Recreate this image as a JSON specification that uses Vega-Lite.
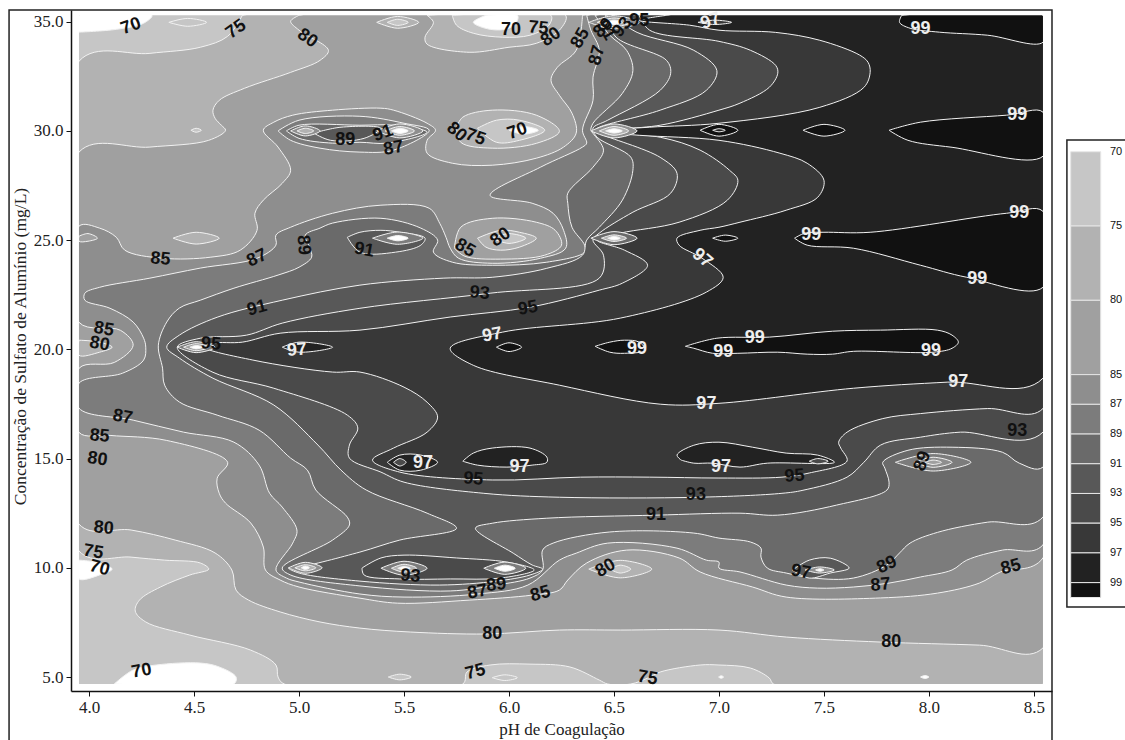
{"$schema":"https://vega.github.io/schema/vega-lite/v6.json","width":981,"height":681,"autosize":{"type":"none"},"padding":{"left":71,"top":10,"right":73,"bottom":49},"background":"white","config":{"view":{"stroke":null}},
"datasets":{"bands":[
{"p":1,"lv":70,"ph":3.952,"c":35.29},{"p":1,"lv":70,"ph":8.543,"c":35.29},{"p":1,"lv":70,"ph":8.543,"c":4.68},{"p":1,"lv":70,"ph":3.952,"c":4.68},{"p":1,"lv":70,"ph":3.952,"c":35.29},
{"p":2,"lv":0,"ph":3.952,"c":34.52},{"p":2,"lv":0,"ph":4.13,"c":34.65},{"p":2,"lv":0,"ph":4.26,"c":34.93},{"p":2,"lv":0,"ph":4.3,"c":35.29},{"p":2,"lv":0,"ph":3.952,"c":35.29},{"p":2,"lv":0,"ph":3.952,"c":34.52},
{"p":3,"lv":0,"ph":4.12,"c":4.68},{"p":3,"lv":0,"ph":4.21,"c":5.32},{"p":3,"lv":0,"ph":4.32,"c":5.55},{"p":3,"lv":0,"ph":4.53,"c":5.64},{"p":3,"lv":0,"ph":4.62,"c":5.46},{"p":3,"lv":0,"ph":4.7,"c":5.0},{"p":3,"lv":0,"ph":4.69,"c":4.68},{"p":3,"lv":0,"ph":4.12,"c":4.68},
{"p":4,"lv":0,"ph":3.952,"c":10.35},{"p":4,"lv":0,"ph":4.03,"c":10.26},{"p":4,"lv":0,"ph":4.11,"c":9.94},{"p":4,"lv":0,"ph":4.05,"c":9.67},{"p":4,"lv":0,"ph":3.952,"c":9.49},{"p":4,"lv":0,"ph":3.952,"c":10.35},
{"p":5,"lv":75,"ph":4.73,"c":35.29},{"p":5,"lv":75,"ph":8.543,"c":35.29},{"p":5,"lv":75,"ph":8.543,"c":4.68},{"p":5,"lv":75,"ph":7.26,"c":4.68},{"p":5,"lv":75,"ph":7.24,"c":4.95},{"p":5,"lv":75,"ph":7.15,"c":5.41},{"p":5,"lv":75,"ph":7.0,"c":5.55},{"p":5,"lv":75,"ph":6.91,"c":5.55},{"p":5,"lv":75,"ph":6.72,"c":5.23},{"p":5,"lv":75,"ph":6.66,"c":4.95},{"p":5,"lv":75,"ph":6.58,"c":4.68},{"p":5,"lv":75,"ph":6.47,"c":4.68},{"p":5,"lv":75,"ph":6.43,"c":4.86},{"p":5,"lv":75,"ph":6.29,"c":5.46},{"p":5,"lv":75,"ph":6.1,"c":5.59},{"p":5,"lv":75,"ph":5.91,"c":5.55},{"p":5,"lv":75,"ph":5.8,"c":5.23},{"p":5,"lv":75,"ph":5.78,"c":4.68},{"p":5,"lv":75,"ph":4.93,"c":4.68},{"p":5,"lv":75,"ph":4.9,"c":5.0},{"p":5,"lv":75,"ph":4.89,"c":5.55},{"p":5,"lv":75,"ph":4.77,"c":6.23},{"p":5,"lv":75,"ph":4.48,"c":6.92},{"p":5,"lv":75,"ph":4.27,"c":7.52},{"p":5,"lv":75,"ph":4.22,"c":8.02},{"p":5,"lv":75,"ph":4.24,"c":8.52},{"p":5,"lv":75,"ph":4.34,"c":9.12},{"p":5,"lv":75,"ph":4.48,"c":9.67},{"p":5,"lv":75,"ph":4.57,"c":9.94},{"p":5,"lv":75,"ph":4.53,"c":10.22},{"p":5,"lv":75,"ph":4.36,"c":10.35},{"p":5,"lv":75,"ph":4.2,"c":10.49},{"p":5,"lv":75,"ph":3.952,"c":10.77},{"p":5,"lv":75,"ph":3.952,"c":33.19},{"p":5,"lv":75,"ph":4.29,"c":33.55},{"p":5,"lv":75,"ph":4.53,"c":33.83},{"p":5,"lv":75,"ph":4.66,"c":34.33},{"p":5,"lv":75,"ph":4.73,"c":35.29},
{"p":6,"lv":80,"ph":5.0,"c":35.29},{"p":6,"lv":80,"ph":8.543,"c":35.29},{"p":6,"lv":80,"ph":8.543,"c":6.33},{"p":6,"lv":80,"ph":8.24,"c":6.46},{"p":6,"lv":80,"ph":7.77,"c":6.6},{"p":6,"lv":80,"ph":7.32,"c":6.83},{"p":6,"lv":80,"ph":7.0,"c":7.15},{"p":6,"lv":80,"ph":6.53,"c":7.15},{"p":6,"lv":80,"ph":6.24,"c":7.15},{"p":6,"lv":80,"ph":5.89,"c":6.97},{"p":6,"lv":80,"ph":5.53,"c":7.06},{"p":6,"lv":80,"ph":5.29,"c":7.24},{"p":6,"lv":80,"ph":5.1,"c":7.52},{"p":6,"lv":80,"ph":4.91,"c":7.98},{"p":6,"lv":80,"ph":4.76,"c":8.52},{"p":6,"lv":80,"ph":4.7,"c":8.98},{"p":6,"lv":80,"ph":4.68,"c":9.9},{"p":6,"lv":80,"ph":4.6,"c":10.68},{"p":6,"lv":80,"ph":4.41,"c":11.27},{"p":6,"lv":80,"ph":4.2,"c":11.73},{"p":6,"lv":80,"ph":3.952,"c":12.0},{"p":6,"lv":80,"ph":3.952,"c":29.03},{"p":6,"lv":80,"ph":4.29,"c":29.26},{"p":6,"lv":80,"ph":4.57,"c":29.57},{"p":6,"lv":80,"ph":4.65,"c":30.03},{"p":6,"lv":80,"ph":4.63,"c":30.26},{"p":6,"lv":80,"ph":4.6,"c":30.58},{"p":6,"lv":80,"ph":4.59,"c":30.95},{"p":6,"lv":80,"ph":4.62,"c":31.4},{"p":6,"lv":80,"ph":4.74,"c":31.95},{"p":6,"lv":80,"ph":4.96,"c":32.68},{"p":6,"lv":80,"ph":5.1,"c":33.23},{"p":6,"lv":80,"ph":5.14,"c":33.69},{"p":6,"lv":80,"ph":5.0,"c":34.61},{"p":6,"lv":80,"ph":4.96,"c":35.02},{"p":6,"lv":80,"ph":5.0,"c":35.29},
{"p":7,"lv":85,"ph":6.35,"c":35.29},{"p":7,"lv":85,"ph":8.543,"c":35.29},{"p":7,"lv":85,"ph":8.543,"c":10.45},{"p":7,"lv":85,"ph":8.34,"c":9.81},{"p":7,"lv":85,"ph":8.24,"c":9.3},{"p":7,"lv":85,"ph":8.04,"c":8.84},{"p":7,"lv":85,"ph":7.77,"c":8.62},{"p":7,"lv":85,"ph":7.32,"c":8.66},{"p":7,"lv":85,"ph":7.16,"c":9.12},{"p":7,"lv":85,"ph":6.91,"c":9.81},{"p":7,"lv":85,"ph":6.81,"c":10.45},{"p":7,"lv":85,"ph":6.56,"c":10.81},{"p":7,"lv":85,"ph":6.37,"c":10.22},{"p":7,"lv":85,"ph":6.28,"c":9.44},{"p":7,"lv":85,"ph":6.24,"c":8.98},{"p":7,"lv":85,"ph":6.11,"c":8.75},{"p":7,"lv":85,"ph":5.81,"c":8.52},{"p":7,"lv":85,"ph":5.47,"c":8.38},{"p":7,"lv":85,"ph":5.29,"c":8.61},{"p":7,"lv":85,"ph":5.0,"c":9.12},{"p":7,"lv":85,"ph":4.91,"c":9.44},{"p":7,"lv":85,"ph":4.84,"c":9.9},{"p":7,"lv":85,"ph":4.83,"c":10.95},{"p":7,"lv":85,"ph":4.77,"c":12.05},{"p":7,"lv":85,"ph":4.65,"c":12.96},{"p":7,"lv":85,"ph":4.62,"c":13.41},{"p":7,"lv":85,"ph":4.61,"c":14.1},{"p":7,"lv":85,"ph":4.66,"c":14.83},{"p":7,"lv":85,"ph":4.37,"c":15.83},{"p":7,"lv":85,"ph":4.1,"c":16.06},{"p":7,"lv":85,"ph":3.952,"c":16.2},{"p":7,"lv":85,"ph":3.952,"c":19.13},{"p":7,"lv":85,"ph":4.12,"c":19.4},{"p":7,"lv":85,"ph":4.21,"c":20.19},{"p":7,"lv":85,"ph":4.15,"c":20.87},{"p":7,"lv":85,"ph":3.952,"c":21.24},{"p":7,"lv":85,"ph":3.952,"c":25.64},{"p":7,"lv":85,"ph":4.05,"c":25.55},{"p":7,"lv":85,"ph":4.13,"c":25.13},{"p":7,"lv":85,"ph":4.17,"c":24.54},{"p":7,"lv":85,"ph":4.35,"c":24.17},{"p":7,"lv":85,"ph":4.58,"c":24.22},{"p":7,"lv":85,"ph":4.72,"c":24.54},{"p":7,"lv":85,"ph":4.8,"c":25.45},{"p":7,"lv":85,"ph":4.79,"c":26.23},{"p":7,"lv":85,"ph":4.83,"c":26.83},{"p":7,"lv":85,"ph":4.92,"c":27.6},{"p":7,"lv":85,"ph":4.96,"c":28.2},{"p":7,"lv":85,"ph":4.9,"c":29.26},{"p":7,"lv":85,"ph":4.83,"c":30.03},{"p":7,"lv":85,"ph":4.88,"c":30.4},{"p":7,"lv":85,"ph":4.97,"c":30.72},{"p":7,"lv":85,"ph":5.16,"c":30.95},{"p":7,"lv":85,"ph":5.39,"c":31.04},{"p":7,"lv":85,"ph":5.45,"c":30.95},{"p":7,"lv":85,"ph":5.61,"c":30.35},{"p":7,"lv":85,"ph":5.65,"c":30.03},{"p":7,"lv":85,"ph":5.61,"c":29.57},{"p":7,"lv":85,"ph":5.61,"c":28.98},{"p":7,"lv":85,"ph":5.73,"c":28.52},{"p":7,"lv":85,"ph":5.92,"c":28.43},{"p":7,"lv":85,"ph":6.13,"c":28.75},{"p":7,"lv":85,"ph":6.26,"c":29.26},{"p":7,"lv":85,"ph":6.32,"c":29.9},{"p":7,"lv":85,"ph":6.3,"c":30.81},{"p":7,"lv":85,"ph":6.24,"c":31.63},{"p":7,"lv":85,"ph":6.2,"c":32.32},{"p":7,"lv":85,"ph":6.23,"c":32.91},{"p":7,"lv":85,"ph":6.32,"c":33.69},{"p":7,"lv":85,"ph":6.35,"c":35.29},
{"p":8,"lv":87,"ph":6.37,"c":35.29},{"p":8,"lv":87,"ph":8.543,"c":35.29},{"p":8,"lv":87,"ph":8.543,"c":11.05},{"p":8,"lv":87,"ph":8.35,"c":10.81},{"p":8,"lv":87,"ph":8.18,"c":10.35},{"p":8,"lv":87,"ph":8.11,"c":9.9},{"p":8,"lv":87,"ph":7.96,"c":9.58},{"p":8,"lv":87,"ph":7.81,"c":9.3},{"p":8,"lv":87,"ph":7.64,"c":9.12},{"p":8,"lv":87,"ph":7.47,"c":9.07},{"p":8,"lv":87,"ph":7.32,"c":9.21},{"p":8,"lv":87,"ph":7.1,"c":9.81},{"p":8,"lv":87,"ph":7.0,"c":9.99},{"p":8,"lv":87,"ph":7.0,"c":10.26},{"p":8,"lv":87,"ph":6.94,"c":10.35},{"p":8,"lv":87,"ph":6.8,"c":10.9},{"p":8,"lv":87,"ph":6.47,"c":11.13},{"p":8,"lv":87,"ph":6.32,"c":10.67},{"p":8,"lv":87,"ph":6.24,"c":10.35},{"p":8,"lv":87,"ph":6.09,"c":9.21},{"p":8,"lv":87,"ph":5.85,"c":8.8},{"p":8,"lv":87,"ph":5.5,"c":8.66},{"p":8,"lv":87,"ph":5.29,"c":8.8},{"p":8,"lv":87,"ph":5.0,"c":9.35},{"p":8,"lv":87,"ph":4.94,"c":9.53},{"p":8,"lv":87,"ph":4.89,"c":9.9},{"p":8,"lv":87,"ph":4.97,"c":11.13},{"p":8,"lv":87,"ph":4.99,"c":11.73},{"p":8,"lv":87,"ph":4.92,"c":12.78},{"p":8,"lv":87,"ph":4.86,"c":13.41},{"p":8,"lv":87,"ph":4.81,"c":14.7},{"p":8,"lv":87,"ph":4.69,"c":15.75},{"p":8,"lv":87,"ph":4.45,"c":16.21},{"p":8,"lv":87,"ph":4.21,"c":16.76},{"p":8,"lv":87,"ph":3.952,"c":17.31},{"p":8,"lv":87,"ph":3.952,"c":18.45},{"p":8,"lv":87,"ph":4.16,"c":18.91},{"p":8,"lv":87,"ph":4.26,"c":19.51},{"p":8,"lv":87,"ph":4.27,"c":20.1},{"p":8,"lv":87,"ph":4.26,"c":20.51},{"p":8,"lv":87,"ph":4.21,"c":21.25},{"p":8,"lv":87,"ph":4.1,"c":21.88},{"p":8,"lv":87,"ph":3.98,"c":22.25},{"p":8,"lv":87,"ph":3.98,"c":22.57},{"p":8,"lv":87,"ph":4.05,"c":22.84},{"p":8,"lv":87,"ph":4.29,"c":23.26},{"p":8,"lv":87,"ph":4.53,"c":23.72},{"p":8,"lv":87,"ph":4.8,"c":24.17},{"p":8,"lv":87,"ph":4.89,"c":24.77},{"p":8,"lv":87,"ph":4.89,"c":25.23},{"p":8,"lv":87,"ph":4.96,"c":25.59},{"p":8,"lv":87,"ph":5.16,"c":26.23},{"p":8,"lv":87,"ph":5.39,"c":26.6},{"p":8,"lv":87,"ph":5.62,"c":26.46},{"p":8,"lv":87,"ph":5.67,"c":25.77},{"p":8,"lv":87,"ph":5.7,"c":25.13},{"p":8,"lv":87,"ph":5.72,"c":24.63},{"p":8,"lv":87,"ph":5.76,"c":24.17},{"p":8,"lv":87,"ph":5.92,"c":23.94},{"p":8,"lv":87,"ph":6.15,"c":24.17},{"p":8,"lv":87,"ph":6.27,"c":24.63},{"p":8,"lv":87,"ph":6.26,"c":25.45},{"p":8,"lv":87,"ph":6.21,"c":26.23},{"p":8,"lv":87,"ph":6.11,"c":26.69},{"p":8,"lv":87,"ph":5.91,"c":27.05},{"p":8,"lv":87,"ph":6.15,"c":28.34},{"p":8,"lv":87,"ph":6.35,"c":29.26},{"p":8,"lv":87,"ph":6.37,"c":29.44},{"p":8,"lv":87,"ph":6.35,"c":30.03},{"p":8,"lv":87,"ph":6.4,"c":31.4},{"p":8,"lv":87,"ph":6.4,"c":32.46},{"p":8,"lv":87,"ph":6.43,"c":33.69},{"p":8,"lv":87,"ph":6.39,"c":34.61},{"p":8,"lv":87,"ph":6.37,"c":35.29},
{"p":9,"lv":89,"ph":6.41,"c":35.29},{"p":9,"lv":89,"ph":8.543,"c":35.29},{"p":9,"lv":89,"ph":8.543,"c":12.32},{"p":9,"lv":89,"ph":8.28,"c":12.09},{"p":9,"lv":89,"ph":8.04,"c":11.62},{"p":9,"lv":89,"ph":7.91,"c":11.13},{"p":9,"lv":89,"ph":7.86,"c":10.68},{"p":9,"lv":89,"ph":7.8,"c":10.13},{"p":9,"lv":89,"ph":7.64,"c":9.53},{"p":9,"lv":89,"ph":7.45,"c":9.53},{"p":9,"lv":89,"ph":7.32,"c":9.76},{"p":9,"lv":89,"ph":7.23,"c":9.99},{"p":9,"lv":89,"ph":7.2,"c":10.49},{"p":9,"lv":89,"ph":7.2,"c":10.9},{"p":9,"lv":89,"ph":7.15,"c":11.18},{"p":9,"lv":89,"ph":7.0,"c":11.36},{"p":9,"lv":89,"ph":6.88,"c":11.59},{"p":9,"lv":89,"ph":6.48,"c":11.64},{"p":9,"lv":89,"ph":6.21,"c":11.13},{"p":9,"lv":89,"ph":6.16,"c":10.81},{"p":9,"lv":89,"ph":6.16,"c":9.9},{"p":9,"lv":89,"ph":6.1,"c":9.53},{"p":9,"lv":89,"ph":5.94,"c":9.21},{"p":9,"lv":89,"ph":5.72,"c":8.94},{"p":9,"lv":89,"ph":5.29,"c":9.17},{"p":9,"lv":89,"ph":4.96,"c":9.67},{"p":9,"lv":89,"ph":4.92,"c":9.99},{"p":9,"lv":89,"ph":5.16,"c":11.27},{"p":9,"lv":89,"ph":5.24,"c":11.96},{"p":9,"lv":89,"ph":5.23,"c":12.32},{"p":9,"lv":89,"ph":5.08,"c":13.56},{"p":9,"lv":89,"ph":5.04,"c":14.47},{"p":9,"lv":89,"ph":4.96,"c":15.02},{"p":9,"lv":89,"ph":4.81,"c":16.3},{"p":9,"lv":89,"ph":4.61,"c":16.99},{"p":9,"lv":89,"ph":4.43,"c":17.59},{"p":9,"lv":89,"ph":4.36,"c":18.36},{"p":9,"lv":89,"ph":4.35,"c":19.14},{"p":9,"lv":89,"ph":4.33,"c":20.19},{"p":9,"lv":89,"ph":4.37,"c":21.25},{"p":9,"lv":89,"ph":4.43,"c":21.89},{"p":9,"lv":89,"ph":4.53,"c":22.25},{"p":9,"lv":89,"ph":4.69,"c":22.8},{"p":9,"lv":89,"ph":4.9,"c":23.4},{"p":9,"lv":89,"ph":5.0,"c":23.76},{"p":9,"lv":89,"ph":5.06,"c":24.22},{"p":9,"lv":89,"ph":5.05,"c":24.68},{"p":9,"lv":89,"ph":5.03,"c":25.23},{"p":9,"lv":89,"ph":5.1,"c":25.55},{"p":9,"lv":89,"ph":5.16,"c":25.78},{"p":9,"lv":89,"ph":5.39,"c":26.0},{"p":9,"lv":89,"ph":5.58,"c":25.55},{"p":9,"lv":89,"ph":5.66,"c":25.0},{"p":9,"lv":89,"ph":5.64,"c":24.45},{"p":9,"lv":89,"ph":5.73,"c":23.99},{"p":9,"lv":89,"ph":5.92,"c":23.85},{"p":9,"lv":89,"ph":6.18,"c":23.99},{"p":9,"lv":89,"ph":6.36,"c":24.45},{"p":9,"lv":89,"ph":6.36,"c":24.77},{"p":9,"lv":89,"ph":6.3,"c":25.59},{"p":9,"lv":89,"ph":6.28,"c":26.69},{"p":9,"lv":89,"ph":6.28,"c":27.15},{"p":9,"lv":89,"ph":6.4,"c":28.34},{"p":9,"lv":89,"ph":6.45,"c":29.12},{"p":9,"lv":89,"ph":6.4,"c":29.89},{"p":9,"lv":89,"ph":6.39,"c":30.03},{"p":9,"lv":89,"ph":6.4,"c":30.35},{"p":9,"lv":89,"ph":6.54,"c":31.72},{"p":9,"lv":89,"ph":6.59,"c":32.76},{"p":9,"lv":89,"ph":6.56,"c":33.69},{"p":9,"lv":89,"ph":6.48,"c":34.38},{"p":9,"lv":89,"ph":6.41,"c":35.29},
{"p":10,"lv":91,"ph":6.46,"c":35.29},{"p":10,"lv":91,"ph":8.543,"c":35.29},{"p":10,"lv":91,"ph":8.543,"c":14.61},{"p":10,"lv":91,"ph":8.43,"c":14.79},{"p":10,"lv":91,"ph":8.35,"c":15.29},{"p":10,"lv":91,"ph":8.11,"c":15.52},{"p":10,"lv":91,"ph":7.9,"c":15.38},{"p":10,"lv":91,"ph":7.78,"c":14.83},{"p":10,"lv":91,"ph":7.79,"c":14.56},{"p":10,"lv":91,"ph":7.81,"c":13.92},{"p":10,"lv":91,"ph":7.8,"c":13.56},{"p":10,"lv":91,"ph":7.56,"c":12.87},{"p":10,"lv":91,"ph":7.28,"c":12.41},{"p":10,"lv":91,"ph":7.1,"c":12.5},{"p":10,"lv":91,"ph":6.7,"c":12.41},{"p":10,"lv":91,"ph":6.18,"c":12.27},{"p":10,"lv":91,"ph":5.92,"c":12.04},{"p":10,"lv":91,"ph":5.84,"c":11.81},{"p":10,"lv":91,"ph":6.02,"c":10.67},{"p":10,"lv":91,"ph":6.11,"c":10.13},{"p":10,"lv":91,"ph":6.16,"c":9.94},{"p":10,"lv":91,"ph":6.1,"c":9.67},{"p":10,"lv":91,"ph":5.94,"c":9.39},{"p":10,"lv":91,"ph":5.67,"c":9.21},{"p":10,"lv":91,"ph":5.29,"c":9.39},{"p":10,"lv":91,"ph":5.0,"c":9.76},{"p":10,"lv":91,"ph":4.95,"c":9.99},{"p":10,"lv":91,"ph":5.0,"c":10.03},{"p":10,"lv":91,"ph":5.29,"c":10.72},{"p":10,"lv":91,"ph":5.48,"c":11.27},{"p":10,"lv":91,"ph":5.75,"c":11.81},{"p":10,"lv":91,"ph":5.61,"c":12.5},{"p":10,"lv":91,"ph":5.32,"c":13.56},{"p":10,"lv":91,"ph":5.2,"c":14.47},{"p":10,"lv":91,"ph":5.09,"c":15.62},{"p":10,"lv":91,"ph":4.88,"c":17.45},{"p":10,"lv":91,"ph":4.59,"c":18.68},{"p":10,"lv":91,"ph":4.43,"c":19.6},{"p":10,"lv":91,"ph":4.37,"c":20.1},{"p":10,"lv":91,"ph":4.43,"c":20.65},{"p":10,"lv":91,"ph":4.61,"c":21.47},{"p":10,"lv":91,"ph":4.92,"c":22.25},{"p":10,"lv":91,"ph":5.29,"c":22.94},{"p":10,"lv":91,"ph":5.69,"c":23.26},{"p":10,"lv":91,"ph":5.92,"c":23.3},{"p":10,"lv":91,"ph":6.18,"c":23.71},{"p":10,"lv":91,"ph":6.35,"c":24.31},{"p":10,"lv":91,"ph":6.37,"c":25.0},{"p":10,"lv":91,"ph":6.43,"c":25.59},{"p":10,"lv":91,"ph":6.54,"c":26.83},{"p":10,"lv":91,"ph":6.59,"c":28.2},{"p":10,"lv":91,"ph":6.58,"c":28.8},{"p":10,"lv":91,"ph":6.42,"c":29.71},{"p":10,"lv":91,"ph":6.4,"c":30.12},{"p":10,"lv":91,"ph":6.47,"c":30.49},{"p":10,"lv":91,"ph":6.72,"c":31.86},{"p":10,"lv":91,"ph":6.77,"c":32.64},{"p":10,"lv":91,"ph":6.75,"c":33.23},{"p":10,"lv":91,"ph":6.51,"c":34.29},{"p":10,"lv":91,"ph":6.46,"c":35.29},
{"p":11,"lv":93,"ph":6.49,"c":35.29},{"p":11,"lv":93,"ph":8.543,"c":35.29},{"p":11,"lv":93,"ph":8.543,"c":16.21},{"p":11,"lv":93,"ph":8.15,"c":16.21},{"p":11,"lv":93,"ph":7.96,"c":15.98},{"p":11,"lv":93,"ph":7.77,"c":15.62},{"p":11,"lv":93,"ph":7.69,"c":14.83},{"p":11,"lv":93,"ph":7.61,"c":14.15},{"p":11,"lv":93,"ph":7.4,"c":13.55},{"p":11,"lv":93,"ph":7.3,"c":13.41},{"p":11,"lv":93,"ph":6.9,"c":13.23},{"p":11,"lv":93,"ph":6.24,"c":13.23},{"p":11,"lv":93,"ph":5.88,"c":13.41},{"p":11,"lv":93,"ph":5.5,"c":13.92},{"p":11,"lv":93,"ph":5.39,"c":14.38},{"p":11,"lv":93,"ph":5.24,"c":15.02},{"p":11,"lv":93,"ph":5.24,"c":15.62},{"p":11,"lv":93,"ph":5.28,"c":16.4},{"p":11,"lv":93,"ph":5.23,"c":16.99},{"p":11,"lv":93,"ph":4.88,"c":18.22},{"p":11,"lv":93,"ph":4.59,"c":18.95},{"p":11,"lv":93,"ph":4.42,"c":20.1},{"p":11,"lv":93,"ph":4.53,"c":20.51},{"p":11,"lv":93,"ph":4.75,"c":20.65},{"p":11,"lv":93,"ph":4.92,"c":21.2},{"p":11,"lv":93,"ph":5.29,"c":21.88},{"p":11,"lv":93,"ph":5.91,"c":22.57},{"p":11,"lv":93,"ph":6.43,"c":23.26},{"p":11,"lv":93,"ph":6.45,"c":24.31},{"p":11,"lv":93,"ph":6.4,"c":25.0},{"p":11,"lv":93,"ph":6.43,"c":25.32},{"p":11,"lv":93,"ph":6.59,"c":26.28},{"p":11,"lv":93,"ph":6.77,"c":27.15},{"p":11,"lv":93,"ph":6.8,"c":28.06},{"p":11,"lv":93,"ph":6.72,"c":28.79},{"p":11,"lv":93,"ph":6.43,"c":29.89},{"p":11,"lv":93,"ph":6.41,"c":30.03},{"p":11,"lv":93,"ph":6.43,"c":30.17},{"p":11,"lv":93,"ph":6.72,"c":30.95},{"p":11,"lv":93,"ph":6.94,"c":31.86},{"p":11,"lv":93,"ph":6.99,"c":32.76},{"p":11,"lv":93,"ph":6.88,"c":33.69},{"p":11,"lv":93,"ph":6.61,"c":34.51},{"p":11,"lv":93,"ph":6.49,"c":35.29},
{"p":12,"lv":93,"ph":5.3,"c":9.99},{"p":12,"lv":93,"ph":5.39,"c":10.45},{"p":12,"lv":93,"ph":5.5,"c":10.58},{"p":12,"lv":93,"ph":5.75,"c":10.45},{"p":12,"lv":93,"ph":5.99,"c":10.26},{"p":12,"lv":93,"ph":6.12,"c":9.9},{"p":12,"lv":93,"ph":5.96,"c":9.53},{"p":12,"lv":93,"ph":5.72,"c":9.49},{"p":12,"lv":93,"ph":5.48,"c":9.49},{"p":12,"lv":93,"ph":5.31,"c":9.67},{"p":12,"lv":93,"ph":5.3,"c":9.99},
{"p":13,"lv":95,"ph":6.62,"c":35.29},{"p":13,"lv":95,"ph":8.543,"c":35.29},{"p":13,"lv":95,"ph":8.543,"c":17.29},{"p":13,"lv":95,"ph":8.28,"c":17.29},{"p":13,"lv":95,"ph":7.96,"c":17.06},{"p":13,"lv":95,"ph":7.78,"c":16.83},{"p":13,"lv":95,"ph":7.61,"c":16.21},{"p":13,"lv":95,"ph":7.57,"c":15.75},{"p":13,"lv":95,"ph":7.58,"c":15.48},{"p":13,"lv":95,"ph":7.61,"c":14.89},{"p":13,"lv":95,"ph":7.43,"c":14.34},{"p":13,"lv":95,"ph":7.3,"c":14.15},{"p":13,"lv":95,"ph":7.0,"c":14.11},{"p":13,"lv":95,"ph":6.67,"c":14.15},{"p":13,"lv":95,"ph":6.34,"c":14.15},{"p":13,"lv":95,"ph":5.92,"c":14.02},{"p":13,"lv":95,"ph":5.48,"c":14.38},{"p":13,"lv":95,"ph":5.35,"c":14.93},{"p":13,"lv":95,"ph":5.45,"c":15.48},{"p":13,"lv":95,"ph":5.61,"c":16.21},{"p":13,"lv":95,"ph":5.66,"c":16.9},{"p":13,"lv":95,"ph":5.61,"c":17.58},{"p":13,"lv":95,"ph":5.5,"c":18.27},{"p":13,"lv":95,"ph":5.29,"c":18.96},{"p":13,"lv":95,"ph":5.16,"c":18.96},{"p":13,"lv":95,"ph":4.78,"c":19.51},{"p":13,"lv":95,"ph":4.55,"c":20.1},{"p":13,"lv":95,"ph":4.59,"c":20.28},{"p":13,"lv":95,"ph":4.73,"c":20.33},{"p":13,"lv":95,"ph":4.91,"c":20.74},{"p":13,"lv":95,"ph":5.29,"c":20.88},{"p":13,"lv":95,"ph":5.72,"c":21.48},{"p":13,"lv":95,"ph":6.1,"c":21.93},{"p":13,"lv":95,"ph":6.43,"c":22.71},{"p":13,"lv":95,"ph":6.54,"c":23.03},{"p":13,"lv":95,"ph":6.66,"c":23.85},{"p":13,"lv":95,"ph":6.55,"c":24.54},{"p":13,"lv":95,"ph":6.42,"c":25.0},{"p":13,"lv":95,"ph":6.53,"c":25.32},{"p":13,"lv":95,"ph":6.81,"c":25.82},{"p":13,"lv":95,"ph":7.04,"c":26.83},{"p":13,"lv":95,"ph":7.09,"c":27.74},{"p":13,"lv":95,"ph":7.05,"c":28.2},{"p":13,"lv":95,"ph":6.91,"c":29.12},{"p":13,"lv":95,"ph":6.72,"c":29.71},{"p":13,"lv":95,"ph":6.42,"c":29.98},{"p":13,"lv":95,"ph":6.72,"c":30.26},{"p":13,"lv":95,"ph":7.0,"c":30.95},{"p":13,"lv":95,"ph":7.1,"c":31.27},{"p":13,"lv":95,"ph":7.24,"c":32.0},{"p":13,"lv":95,"ph":7.28,"c":32.64},{"p":13,"lv":95,"ph":7.27,"c":33.0},{"p":13,"lv":95,"ph":7.15,"c":33.69},{"p":13,"lv":95,"ph":7.0,"c":34.1},{"p":13,"lv":95,"ph":6.67,"c":34.61},{"p":13,"lv":95,"ph":6.62,"c":35.29},
{"p":14,"lv":97,"ph":6.75,"c":35.29},{"p":14,"lv":97,"ph":8.543,"c":35.29},{"p":14,"lv":97,"ph":8.543,"c":18.68},{"p":14,"lv":97,"ph":8.09,"c":18.5},{"p":14,"lv":97,"ph":7.64,"c":18.22},{"p":14,"lv":97,"ph":7.0,"c":17.53},{"p":14,"lv":97,"ph":6.72,"c":17.49},{"p":14,"lv":97,"ph":6.24,"c":18.36},{"p":14,"lv":97,"ph":5.83,"c":19.27},{"p":14,"lv":97,"ph":5.72,"c":20.05},{"p":14,"lv":97,"ph":5.97,"c":20.79},{"p":14,"lv":97,"ph":6.53,"c":21.43},{"p":14,"lv":97,"ph":6.94,"c":22.62},{"p":14,"lv":97,"ph":7.02,"c":23.3},{"p":14,"lv":97,"ph":6.92,"c":24.17},{"p":14,"lv":97,"ph":6.81,"c":24.77},{"p":14,"lv":97,"ph":6.8,"c":25.09},{"p":14,"lv":97,"ph":6.91,"c":25.45},{"p":14,"lv":97,"ph":7.0,"c":25.59},{"p":14,"lv":97,"ph":7.1,"c":25.82},{"p":14,"lv":97,"ph":7.32,"c":26.37},{"p":14,"lv":97,"ph":7.47,"c":26.96},{"p":14,"lv":97,"ph":7.5,"c":27.74},{"p":14,"lv":97,"ph":7.42,"c":28.52},{"p":14,"lv":97,"ph":7.29,"c":28.98},{"p":14,"lv":97,"ph":7.0,"c":29.57},{"p":14,"lv":97,"ph":6.62,"c":29.8},{"p":14,"lv":97,"ph":6.42,"c":29.98},{"p":14,"lv":97,"ph":6.67,"c":30.17},{"p":14,"lv":97,"ph":7.0,"c":30.35},{"p":14,"lv":97,"ph":7.48,"c":31.08},{"p":14,"lv":97,"ph":7.69,"c":31.99},{"p":14,"lv":97,"ph":7.72,"c":32.68},{"p":14,"lv":97,"ph":7.71,"c":33.14},{"p":14,"lv":97,"ph":7.67,"c":33.47},{"p":14,"lv":97,"ph":7.48,"c":34.15},{"p":14,"lv":97,"ph":7.27,"c":34.51},{"p":14,"lv":97,"ph":7.0,"c":34.61},{"p":14,"lv":97,"ph":6.86,"c":34.84},{"p":14,"lv":97,"ph":6.62,"c":35.06},{"p":14,"lv":97,"ph":6.75,"c":35.29},
{"p":15,"lv":99,"ph":7.87,"c":35.29},{"p":15,"lv":99,"ph":7.86,"c":34.97},{"p":15,"lv":99,"ph":7.91,"c":34.7},{"p":15,"lv":99,"ph":8.05,"c":34.52},{"p":15,"lv":99,"ph":8.28,"c":34.38},{"p":15,"lv":99,"ph":8.543,"c":34.06},{"p":15,"lv":99,"ph":8.543,"c":35.29},{"p":15,"lv":99,"ph":7.87,"c":35.29},
{"p":16,"lv":99,"ph":7.81,"c":30.03},{"p":16,"lv":99,"ph":7.96,"c":30.4},{"p":16,"lv":99,"ph":8.37,"c":30.72},{"p":16,"lv":99,"ph":8.543,"c":30.86},{"p":16,"lv":99,"ph":8.543,"c":28.84},{"p":16,"lv":99,"ph":8.11,"c":29.25},{"p":16,"lv":99,"ph":7.9,"c":29.57},{"p":16,"lv":99,"ph":7.81,"c":30.03},
{"p":17,"lv":99,"ph":7.36,"c":25.09},{"p":17,"lv":99,"ph":7.41,"c":25.32},{"p":17,"lv":99,"ph":7.5,"c":25.36},{"p":17,"lv":99,"ph":7.72,"c":25.36},{"p":17,"lv":99,"ph":8.37,"c":26.23},{"p":17,"lv":99,"ph":8.543,"c":26.32},{"p":17,"lv":99,"ph":8.543,"c":22.84},{"p":17,"lv":99,"ph":8.18,"c":23.3},{"p":17,"lv":99,"ph":7.96,"c":23.85},{"p":17,"lv":99,"ph":7.64,"c":24.63},{"p":17,"lv":99,"ph":7.42,"c":24.77},{"p":17,"lv":99,"ph":7.36,"c":25.09},
{"p":18,"lv":99,"ph":7.4,"c":30.03},{"p":18,"lv":99,"ph":7.5,"c":30.3},{"p":18,"lv":99,"ph":7.6,"c":30.03},{"p":18,"lv":99,"ph":7.5,"c":29.76},{"p":18,"lv":99,"ph":7.4,"c":30.03},
{"p":19,"lv":99,"ph":6.97,"c":25.09},{"p":19,"lv":99,"ph":7.03,"c":25.23},{"p":19,"lv":99,"ph":7.09,"c":25.09},{"p":19,"lv":99,"ph":7.03,"c":24.95},{"p":19,"lv":99,"ph":6.97,"c":25.09},
{"p":20,"lv":99,"ph":6.91,"c":30.03},{"p":20,"lv":99,"ph":7.0,"c":30.3},{"p":20,"lv":99,"ph":7.09,"c":30.03},{"p":20,"lv":99,"ph":7.0,"c":29.76},{"p":20,"lv":99,"ph":6.91,"c":30.03},
{"p":21,"lv":97,"ph":6.97,"c":30.03},{"p":21,"lv":97,"ph":7.0,"c":30.1},{"p":21,"lv":97,"ph":7.03,"c":30.03},{"p":21,"lv":97,"ph":7.0,"c":29.96},{"p":21,"lv":97,"ph":6.97,"c":30.03},
{"p":22,"lv":99,"ph":5.94,"c":20.1},{"p":22,"lv":99,"ph":6.0,"c":20.3},{"p":22,"lv":99,"ph":6.06,"c":20.1},{"p":22,"lv":99,"ph":6.0,"c":19.9},{"p":22,"lv":99,"ph":5.94,"c":20.1},
{"p":23,"lv":99,"ph":6.41,"c":20.14},{"p":23,"lv":99,"ph":6.48,"c":20.33},{"p":23,"lv":99,"ph":6.55,"c":20.42},{"p":23,"lv":99,"ph":6.62,"c":20.33},{"p":23,"lv":99,"ph":6.65,"c":19.96},{"p":23,"lv":99,"ph":6.55,"c":19.82},{"p":23,"lv":99,"ph":6.48,"c":19.87},{"p":23,"lv":99,"ph":6.41,"c":20.14},
{"p":24,"lv":99,"ph":6.84,"c":20.14},{"p":24,"lv":99,"ph":6.99,"c":20.51},{"p":24,"lv":99,"ph":7.24,"c":20.56},{"p":24,"lv":99,"ph":7.54,"c":20.83},{"p":24,"lv":99,"ph":7.77,"c":20.88},{"p":24,"lv":99,"ph":8.04,"c":20.88},{"p":24,"lv":99,"ph":8.11,"c":20.65},{"p":24,"lv":99,"ph":8.14,"c":20.33},{"p":24,"lv":99,"ph":8.11,"c":20.05},{"p":24,"lv":99,"ph":8.02,"c":19.87},{"p":24,"lv":99,"ph":7.64,"c":19.91},{"p":24,"lv":99,"ph":7.54,"c":19.78},{"p":24,"lv":99,"ph":7.42,"c":19.78},{"p":24,"lv":99,"ph":7.28,"c":19.87},{"p":24,"lv":99,"ph":7.09,"c":19.82},{"p":24,"lv":99,"ph":6.97,"c":19.82},{"p":24,"lv":99,"ph":6.88,"c":20.05},{"p":24,"lv":99,"ph":6.84,"c":20.14},
{"p":25,"lv":97,"ph":5.42,"c":14.83},{"p":25,"lv":97,"ph":5.48,"c":15.16},{"p":25,"lv":97,"ph":5.58,"c":15.16},{"p":25,"lv":97,"ph":5.66,"c":14.83},{"p":25,"lv":97,"ph":5.58,"c":14.47},{"p":25,"lv":97,"ph":5.48,"c":14.47},{"p":25,"lv":97,"ph":5.42,"c":14.83},
{"p":26,"lv":93,"ph":5.45,"c":14.83},{"p":26,"lv":93,"ph":5.48,"c":15.0},{"p":26,"lv":93,"ph":5.51,"c":14.83},{"p":26,"lv":93,"ph":5.48,"c":14.66},{"p":26,"lv":93,"ph":5.45,"c":14.83},
{"p":27,"lv":97,"ph":5.78,"c":14.88},{"p":27,"lv":97,"ph":5.83,"c":15.25},{"p":27,"lv":97,"ph":5.92,"c":15.48},{"p":27,"lv":97,"ph":6.1,"c":15.48},{"p":27,"lv":97,"ph":6.18,"c":15.07},{"p":27,"lv":97,"ph":6.18,"c":14.83},{"p":27,"lv":97,"ph":6.11,"c":14.7},{"p":27,"lv":97,"ph":5.99,"c":14.61},{"p":27,"lv":97,"ph":5.85,"c":14.7},{"p":27,"lv":97,"ph":5.78,"c":14.88},
{"p":28,"lv":97,"ph":6.82,"c":14.93},{"p":28,"lv":97,"ph":6.8,"c":15.16},{"p":28,"lv":97,"ph":6.88,"c":15.61},{"p":28,"lv":97,"ph":7.0,"c":15.75},{"p":28,"lv":97,"ph":7.16,"c":15.52},{"p":28,"lv":97,"ph":7.32,"c":15.25},{"p":28,"lv":97,"ph":7.47,"c":15.16},{"p":28,"lv":97,"ph":7.55,"c":14.83},{"p":28,"lv":97,"ph":7.23,"c":14.79},{"p":28,"lv":97,"ph":7.1,"c":14.61},{"p":28,"lv":97,"ph":6.97,"c":14.79},{"p":28,"lv":97,"ph":6.88,"c":14.79},{"p":28,"lv":97,"ph":6.82,"c":14.93},
{"p":29,"lv":93,"ph":7.43,"c":14.88},{"p":29,"lv":93,"ph":7.47,"c":15.0},{"p":29,"lv":93,"ph":7.52,"c":14.88},{"p":29,"lv":93,"ph":7.47,"c":14.76},{"p":29,"lv":93,"ph":7.43,"c":14.88},
{"p":30,"lv":97,"ph":4.92,"c":20.1},{"p":30,"lv":97,"ph":5.0,"c":20.33},{"p":30,"lv":97,"ph":5.16,"c":20.1},{"p":30,"lv":97,"ph":5.0,"c":19.87},{"p":30,"lv":97,"ph":4.92,"c":20.1},
{"p":31,"lv":80,"ph":5.74,"c":24.63},{"p":31,"lv":80,"ph":5.77,"c":25.59},{"p":31,"lv":80,"ph":5.92,"c":26.0},{"p":31,"lv":80,"ph":6.13,"c":25.82},{"p":31,"lv":80,"ph":6.22,"c":25.45},{"p":31,"lv":80,"ph":6.25,"c":24.77},{"p":31,"lv":80,"ph":6.17,"c":24.31},{"p":31,"lv":80,"ph":5.96,"c":24.13},{"p":31,"lv":80,"ph":5.79,"c":24.26},{"p":31,"lv":80,"ph":5.74,"c":24.63},
{"p":32,"lv":75,"ph":5.85,"c":25.09},{"p":32,"lv":75,"ph":5.96,"c":25.45},{"p":32,"lv":75,"ph":6.05,"c":25.36},{"p":32,"lv":75,"ph":6.13,"c":25.09},{"p":32,"lv":75,"ph":6.05,"c":24.68},{"p":32,"lv":75,"ph":5.96,"c":24.54},{"p":32,"lv":75,"ph":5.89,"c":24.68},{"p":32,"lv":75,"ph":5.85,"c":25.09},
{"p":33,"lv":70,"ph":5.92,"c":25.09},{"p":33,"lv":70,"ph":6.0,"c":25.3},{"p":33,"lv":70,"ph":6.08,"c":25.09},{"p":33,"lv":70,"ph":6.0,"c":24.85},{"p":33,"lv":70,"ph":5.92,"c":25.09},
{"p":34,"lv":75,"ph":5.61,"c":35.29},{"p":34,"lv":75,"ph":5.64,"c":34.97},{"p":34,"lv":75,"ph":5.6,"c":34.29},{"p":34,"lv":75,"ph":5.61,"c":33.97},{"p":34,"lv":75,"ph":5.81,"c":33.6},{"p":34,"lv":75,"ph":6.0,"c":33.83},{"p":34,"lv":75,"ph":6.13,"c":34.01},{"p":34,"lv":75,"ph":6.24,"c":34.61},{"p":34,"lv":75,"ph":6.27,"c":35.29},{"p":34,"lv":75,"ph":5.61,"c":35.29},
{"p":35,"lv":70,"ph":5.73,"c":35.29},{"p":35,"lv":70,"ph":5.75,"c":34.84},{"p":35,"lv":70,"ph":5.83,"c":34.47},{"p":35,"lv":70,"ph":5.97,"c":34.29},{"p":35,"lv":70,"ph":6.1,"c":34.38},{"p":35,"lv":70,"ph":6.19,"c":34.84},{"p":35,"lv":70,"ph":6.2,"c":35.29},{"p":35,"lv":70,"ph":5.73,"c":35.29},
{"p":36,"lv":0,"ph":5.89,"c":35.29},{"p":36,"lv":0,"ph":5.83,"c":34.97},{"p":36,"lv":0,"ph":5.91,"c":34.65},{"p":36,"lv":0,"ph":6.0,"c":34.7},{"p":36,"lv":0,"ph":6.04,"c":35.06},{"p":36,"lv":0,"ph":6.04,"c":35.29},{"p":36,"lv":0,"ph":5.89,"c":35.29},
{"p":37,"lv":75,"ph":3.952,"c":20.42},{"p":37,"lv":75,"ph":4.05,"c":20.33},{"p":37,"lv":75,"ph":4.11,"c":20.1},{"p":37,"lv":75,"ph":4.05,"c":19.87},{"p":37,"lv":75,"ph":3.952,"c":19.73},{"p":37,"lv":75,"ph":3.952,"c":20.42},
{"p":38,"lv":75,"ph":5.75,"c":30.17},{"p":38,"lv":75,"ph":5.78,"c":30.63},{"p":38,"lv":75,"ph":5.92,"c":30.95},{"p":38,"lv":75,"ph":6.13,"c":30.72},{"p":38,"lv":75,"ph":6.24,"c":29.98},{"p":38,"lv":75,"ph":6.13,"c":29.43},{"p":38,"lv":75,"ph":5.92,"c":29.21},{"p":38,"lv":75,"ph":5.77,"c":29.48},{"p":38,"lv":75,"ph":5.75,"c":30.17},
{"p":39,"lv":70,"ph":5.85,"c":30.12},{"p":39,"lv":70,"ph":5.94,"c":30.49},{"p":39,"lv":70,"ph":6.05,"c":30.49},{"p":39,"lv":70,"ph":6.17,"c":30.03},{"p":39,"lv":70,"ph":6.05,"c":29.57},{"p":39,"lv":70,"ph":5.94,"c":29.48},{"p":39,"lv":70,"ph":5.85,"c":30.12},
{"p":40,"lv":0,"ph":6.0,"c":30.03},{"p":40,"lv":0,"ph":6.07,"c":30.2},{"p":40,"lv":0,"ph":6.14,"c":30.03},{"p":40,"lv":0,"ph":6.07,"c":29.85},{"p":40,"lv":0,"ph":6.0,"c":30.03},
{"p":41,"lv":87,"ph":4.9,"c":30.0},{"p":41,"lv":87,"ph":5.0,"c":30.49},{"p":41,"lv":87,"ph":5.29,"c":30.67},{"p":41,"lv":87,"ph":5.5,"c":30.35},{"p":41,"lv":87,"ph":5.62,"c":30.03},{"p":41,"lv":87,"ph":5.45,"c":29.12},{"p":41,"lv":87,"ph":5.29,"c":29.03},{"p":41,"lv":87,"ph":5.1,"c":29.21},{"p":41,"lv":87,"ph":4.96,"c":29.57},{"p":41,"lv":87,"ph":4.9,"c":30.0},
{"p":42,"lv":89,"ph":4.94,"c":30.0},{"p":42,"lv":89,"ph":5.0,"c":30.26},{"p":42,"lv":89,"ph":5.29,"c":30.26},{"p":42,"lv":89,"ph":5.45,"c":30.26},{"p":42,"lv":89,"ph":5.61,"c":29.94},{"p":42,"lv":89,"ph":5.42,"c":29.44},{"p":42,"lv":89,"ph":5.29,"c":29.48},{"p":42,"lv":89,"ph":5.16,"c":29.44},{"p":42,"lv":89,"ph":5.0,"c":29.66},{"p":42,"lv":89,"ph":4.94,"c":30.0},
{"p":43,"lv":91,"ph":5.07,"c":29.9},{"p":43,"lv":91,"ph":5.2,"c":30.17},{"p":43,"lv":91,"ph":5.39,"c":30.12},{"p":43,"lv":91,"ph":5.31,"c":29.66},{"p":43,"lv":91,"ph":5.15,"c":29.57},{"p":43,"lv":91,"ph":5.07,"c":29.9},
{"p":44,"lv":91,"ph":5.23,"c":25.13},{"p":44,"lv":91,"ph":5.29,"c":25.36},{"p":44,"lv":91,"ph":5.39,"c":25.45},{"p":44,"lv":91,"ph":5.48,"c":25.36},{"p":44,"lv":91,"ph":5.6,"c":25.09},{"p":44,"lv":91,"ph":5.58,"c":24.77},{"p":44,"lv":91,"ph":5.46,"c":24.45},{"p":44,"lv":91,"ph":5.29,"c":24.45},{"p":44,"lv":91,"ph":5.23,"c":25.13},
{"p":45,"lv":91,"ph":7.35,"c":9.89},{"p":45,"lv":91,"ph":7.43,"c":10.35},{"p":45,"lv":91,"ph":7.53,"c":10.44},{"p":45,"lv":91,"ph":7.62,"c":9.99},{"p":45,"lv":91,"ph":7.53,"c":9.76},{"p":45,"lv":91,"ph":7.43,"c":9.53},{"p":45,"lv":91,"ph":7.35,"c":9.89},
{"p":46,"lv":85,"ph":4.96,"c":30.0},{"p":46,"lv":85,"ph":5.03,"c":30.23},{"p":46,"lv":85,"ph":5.1,"c":30.0},{"p":46,"lv":85,"ph":5.03,"c":29.77},{"p":46,"lv":85,"ph":4.96,"c":30.0},
{"p":47,"lv":75,"ph":4.99,"c":30.0},{"p":47,"lv":75,"ph":5.03,"c":30.12},{"p":47,"lv":75,"ph":5.07,"c":30.0},{"p":47,"lv":75,"ph":5.03,"c":29.88},{"p":47,"lv":75,"ph":4.99,"c":30.0},
{"p":48,"lv":85,"ph":5.37,"c":30.0},{"p":48,"lv":85,"ph":5.48,"c":30.32},{"p":48,"lv":85,"ph":5.59,"c":30.0},{"p":48,"lv":85,"ph":5.48,"c":29.68},{"p":48,"lv":85,"ph":5.37,"c":30.0},
{"p":49,"lv":75,"ph":5.41,"c":30.0},{"p":49,"lv":75,"ph":5.48,"c":30.2},{"p":49,"lv":75,"ph":5.55,"c":30.0},{"p":49,"lv":75,"ph":5.48,"c":29.8},{"p":49,"lv":75,"ph":5.41,"c":30.0},
{"p":50,"lv":0,"ph":5.44,"c":30.0},{"p":50,"lv":0,"ph":5.48,"c":30.12},{"p":50,"lv":0,"ph":5.52,"c":30.0},{"p":50,"lv":0,"ph":5.48,"c":29.88},{"p":50,"lv":0,"ph":5.44,"c":30.0},
{"p":51,"lv":85,"ph":6.39,"c":30.0},{"p":51,"lv":85,"ph":6.5,"c":30.32},{"p":51,"lv":85,"ph":6.61,"c":30.0},{"p":51,"lv":85,"ph":6.5,"c":29.68},{"p":51,"lv":85,"ph":6.39,"c":30.0},
{"p":52,"lv":75,"ph":6.43,"c":30.0},{"p":52,"lv":75,"ph":6.5,"c":30.2},{"p":52,"lv":75,"ph":6.57,"c":30.0},{"p":52,"lv":75,"ph":6.5,"c":29.8},{"p":52,"lv":75,"ph":6.43,"c":30.0},
{"p":53,"lv":0,"ph":6.46,"c":30.0},{"p":53,"lv":0,"ph":6.5,"c":30.1},{"p":53,"lv":0,"ph":6.54,"c":30.0},{"p":53,"lv":0,"ph":6.5,"c":29.9},{"p":53,"lv":0,"ph":6.46,"c":30.0},
{"p":54,"lv":85,"ph":6.38,"c":34.97},{"p":54,"lv":85,"ph":6.5,"c":35.27},{"p":54,"lv":85,"ph":6.62,"c":34.97},{"p":54,"lv":85,"ph":6.5,"c":34.67},{"p":54,"lv":85,"ph":6.38,"c":34.97},
{"p":55,"lv":75,"ph":6.42,"c":34.97},{"p":55,"lv":75,"ph":6.5,"c":35.17},{"p":55,"lv":75,"ph":6.58,"c":34.97},{"p":55,"lv":75,"ph":6.5,"c":34.77},{"p":55,"lv":75,"ph":6.42,"c":34.97},
{"p":56,"lv":0,"ph":6.46,"c":34.97},{"p":56,"lv":0,"ph":6.5,"c":35.07},{"p":56,"lv":0,"ph":6.54,"c":34.97},{"p":56,"lv":0,"ph":6.5,"c":34.87},{"p":56,"lv":0,"ph":6.46,"c":34.97},
{"p":57,"lv":89,"ph":6.39,"c":25.09},{"p":57,"lv":89,"ph":6.5,"c":25.39},{"p":57,"lv":89,"ph":6.61,"c":25.09},{"p":57,"lv":89,"ph":6.5,"c":24.79},{"p":57,"lv":89,"ph":6.39,"c":25.09},
{"p":58,"lv":75,"ph":6.44,"c":25.09},{"p":58,"lv":75,"ph":6.5,"c":25.24},{"p":58,"lv":75,"ph":6.56,"c":25.09},{"p":58,"lv":75,"ph":6.5,"c":24.94},{"p":58,"lv":75,"ph":6.44,"c":25.09},
{"p":59,"lv":0,"ph":6.47,"c":25.09},{"p":59,"lv":0,"ph":6.5,"c":25.17},{"p":59,"lv":0,"ph":6.53,"c":25.09},{"p":59,"lv":0,"ph":6.5,"c":25.01},{"p":59,"lv":0,"ph":6.47,"c":25.09},
{"p":60,"lv":87,"ph":4.42,"c":20.1},{"p":60,"lv":87,"ph":4.51,"c":20.35},{"p":60,"lv":87,"ph":4.6,"c":20.1},{"p":60,"lv":87,"ph":4.51,"c":19.85},{"p":60,"lv":87,"ph":4.42,"c":20.1},
{"p":61,"lv":80,"ph":4.45,"c":20.1},{"p":61,"lv":80,"ph":4.51,"c":20.26},{"p":61,"lv":80,"ph":4.57,"c":20.1},{"p":61,"lv":80,"ph":4.51,"c":19.94},{"p":61,"lv":80,"ph":4.45,"c":20.1},
{"p":62,"lv":0,"ph":4.48,"c":20.1},{"p":62,"lv":0,"ph":4.51,"c":20.18},{"p":62,"lv":0,"ph":4.54,"c":20.1},{"p":62,"lv":0,"ph":4.51,"c":20.02},{"p":62,"lv":0,"ph":4.48,"c":20.1},
{"p":63,"lv":85,"ph":4.95,"c":10.0},{"p":63,"lv":85,"ph":5.03,"c":10.25},{"p":63,"lv":85,"ph":5.11,"c":10.0},{"p":63,"lv":85,"ph":5.03,"c":9.75},{"p":63,"lv":85,"ph":4.95,"c":10.0},
{"p":64,"lv":75,"ph":4.98,"c":10.0},{"p":64,"lv":75,"ph":5.03,"c":10.14},{"p":64,"lv":75,"ph":5.08,"c":10.0},{"p":64,"lv":75,"ph":5.03,"c":9.86},{"p":64,"lv":75,"ph":4.98,"c":10.0},
{"p":65,"lv":0,"ph":5.01,"c":10.0},{"p":65,"lv":0,"ph":5.03,"c":10.08},{"p":65,"lv":0,"ph":5.05,"c":10.0},{"p":65,"lv":0,"ph":5.03,"c":9.92},{"p":65,"lv":0,"ph":5.01,"c":10.0},
{"p":66,"lv":87,"ph":5.39,"c":9.98},{"p":66,"lv":87,"ph":5.5,"c":10.3},{"p":66,"lv":87,"ph":5.61,"c":9.98},{"p":66,"lv":87,"ph":5.5,"c":9.66},{"p":66,"lv":87,"ph":5.39,"c":9.98},
{"p":67,"lv":75,"ph":5.44,"c":9.98},{"p":67,"lv":75,"ph":5.5,"c":10.16},{"p":67,"lv":75,"ph":5.56,"c":9.98},{"p":67,"lv":75,"ph":5.5,"c":9.8},{"p":67,"lv":75,"ph":5.44,"c":9.98},
{"p":68,"lv":0,"ph":5.47,"c":9.98},{"p":68,"lv":0,"ph":5.5,"c":10.06},{"p":68,"lv":0,"ph":5.53,"c":9.98},{"p":68,"lv":0,"ph":5.5,"c":9.9},{"p":68,"lv":0,"ph":5.47,"c":9.98},
{"p":69,"lv":87,"ph":5.88,"c":9.98},{"p":69,"lv":87,"ph":5.98,"c":10.26},{"p":69,"lv":87,"ph":6.08,"c":9.98},{"p":69,"lv":87,"ph":5.98,"c":9.7},{"p":69,"lv":87,"ph":5.88,"c":9.98},
{"p":70,"lv":0,"ph":5.93,"c":9.98},{"p":70,"lv":0,"ph":5.98,"c":10.12},{"p":70,"lv":0,"ph":6.03,"c":9.98},{"p":70,"lv":0,"ph":5.98,"c":9.84},{"p":70,"lv":0,"ph":5.93,"c":9.98},
{"p":71,"lv":87,"ph":5.35,"c":25.09},{"p":71,"lv":87,"ph":5.47,"c":25.37},{"p":71,"lv":87,"ph":5.59,"c":25.09},{"p":71,"lv":87,"ph":5.47,"c":24.81},{"p":71,"lv":87,"ph":5.35,"c":25.09},
{"p":72,"lv":0,"ph":5.42,"c":25.09},{"p":72,"lv":0,"ph":5.47,"c":25.21},{"p":72,"lv":0,"ph":5.52,"c":25.09},{"p":72,"lv":0,"ph":5.47,"c":24.97},{"p":72,"lv":0,"ph":5.42,"c":25.09},
{"p":73,"lv":75,"ph":6.38,"c":9.94},{"p":73,"lv":75,"ph":6.53,"c":10.34},{"p":73,"lv":75,"ph":6.68,"c":9.94},{"p":73,"lv":75,"ph":6.53,"c":9.54},{"p":73,"lv":75,"ph":6.38,"c":9.94},
{"p":74,"lv":70,"ph":6.48,"c":9.94},{"p":74,"lv":70,"ph":6.53,"c":10.12},{"p":74,"lv":70,"ph":6.58,"c":9.94},{"p":74,"lv":70,"ph":6.53,"c":9.76},{"p":74,"lv":70,"ph":6.48,"c":9.94},
{"p":75,"lv":85,"ph":7.41,"c":9.9},{"p":75,"lv":85,"ph":7.48,"c":10.04},{"p":75,"lv":85,"ph":7.55,"c":9.9},{"p":75,"lv":85,"ph":7.48,"c":9.76},{"p":75,"lv":85,"ph":7.41,"c":9.9},
{"p":76,"lv":0,"ph":7.46,"c":9.9},{"p":76,"lv":0,"ph":7.48,"c":9.96},{"p":76,"lv":0,"ph":7.5,"c":9.9},{"p":76,"lv":0,"ph":7.48,"c":9.84},{"p":76,"lv":0,"ph":7.46,"c":9.9},
{"p":77,"lv":87,"ph":7.84,"c":14.83},{"p":77,"lv":87,"ph":8.02,"c":15.23},{"p":77,"lv":87,"ph":8.2,"c":14.83},{"p":77,"lv":87,"ph":8.02,"c":14.43},{"p":77,"lv":87,"ph":7.84,"c":14.83},
{"p":78,"lv":85,"ph":7.93,"c":14.83},{"p":78,"lv":85,"ph":8.02,"c":15.06},{"p":78,"lv":85,"ph":8.11,"c":14.83},{"p":78,"lv":85,"ph":8.02,"c":14.6},{"p":78,"lv":85,"ph":7.93,"c":14.83},
{"p":79,"lv":80,"ph":7.98,"c":14.83},{"p":79,"lv":80,"ph":8.02,"c":14.93},{"p":79,"lv":80,"ph":8.06,"c":14.83},{"p":79,"lv":80,"ph":8.02,"c":14.73},{"p":79,"lv":80,"ph":7.98,"c":14.83},
{"p":80,"lv":75,"ph":5.37,"c":34.97},{"p":80,"lv":75,"ph":5.47,"c":35.24},{"p":80,"lv":75,"ph":5.57,"c":34.97},{"p":80,"lv":75,"ph":5.47,"c":34.7},{"p":80,"lv":75,"ph":5.37,"c":34.97},
{"p":81,"lv":70,"ph":5.42,"c":34.97},{"p":81,"lv":70,"ph":5.47,"c":35.11},{"p":81,"lv":70,"ph":5.52,"c":34.97},{"p":81,"lv":70,"ph":5.47,"c":34.83},{"p":81,"lv":70,"ph":5.42,"c":34.97},
{"p":82,"lv":70,"ph":4.38,"c":34.97},{"p":82,"lv":70,"ph":4.47,"c":35.15},{"p":82,"lv":70,"ph":4.56,"c":34.97},{"p":82,"lv":70,"ph":4.47,"c":34.79},{"p":82,"lv":70,"ph":4.38,"c":34.97},
{"p":83,"lv":70,"ph":4.485,"c":30.03},{"p":83,"lv":70,"ph":4.51,"c":30.12},{"p":83,"lv":70,"ph":4.535,"c":30.03},{"p":83,"lv":70,"ph":4.51,"c":29.94},{"p":83,"lv":70,"ph":4.485,"c":30.03},
{"p":84,"lv":75,"ph":4.4,"c":25.09},{"p":84,"lv":75,"ph":4.51,"c":25.36},{"p":84,"lv":75,"ph":4.62,"c":25.09},{"p":84,"lv":75,"ph":4.51,"c":24.82},{"p":84,"lv":75,"ph":4.4,"c":25.09},
{"p":85,"lv":80,"ph":3.952,"c":25.18},{"p":85,"lv":80,"ph":3.995,"c":25.3},{"p":85,"lv":80,"ph":4.04,"c":25.09},{"p":85,"lv":80,"ph":3.995,"c":24.95},{"p":85,"lv":80,"ph":3.952,"c":24.95},{"p":85,"lv":80,"ph":3.952,"c":25.18},
{"p":86,"lv":95,"ph":6.9,"c":34.97},{"p":86,"lv":95,"ph":6.98,"c":35.07},{"p":86,"lv":95,"ph":7.06,"c":34.97},{"p":86,"lv":95,"ph":6.98,"c":34.87},{"p":86,"lv":95,"ph":6.9,"c":34.97},
{"p":87,"lv":70,"ph":5.425,"c":5.0},{"p":87,"lv":70,"ph":5.48,"c":5.13},{"p":87,"lv":70,"ph":5.535,"c":5.0},{"p":87,"lv":70,"ph":5.48,"c":4.87},{"p":87,"lv":70,"ph":5.425,"c":5.0},
{"p":88,"lv":70,"ph":5.92,"c":4.97},{"p":88,"lv":70,"ph":5.98,"c":5.1},{"p":88,"lv":70,"ph":6.04,"c":4.97},{"p":88,"lv":70,"ph":5.98,"c":4.84},{"p":88,"lv":70,"ph":5.92,"c":4.97},
{"p":89,"lv":0,"ph":6.998,"c":5.0},{"p":89,"lv":0,"ph":7.01,"c":5.06},{"p":89,"lv":0,"ph":7.022,"c":5.0},{"p":89,"lv":0,"ph":7.01,"c":4.94},{"p":89,"lv":0,"ph":6.998,"c":5.0},
{"p":90,"lv":0,"ph":7.96,"c":5.0},{"p":90,"lv":0,"ph":7.98,"c":5.07},{"p":90,"lv":0,"ph":8.0,"c":5.0},{"p":90,"lv":0,"ph":7.98,"c":4.93},{"p":90,"lv":0,"ph":7.96,"c":5.0}
],
"labels":[
{"t":70,"ph":4.2,"c":34.79,"a":-20},{"t":75,"ph":4.7,"c":34.65,"a":-35},{"t":80,"ph":5.04,"c":34.24,"a":35},{"t":70,"ph":6.01,"c":34.61,"a":0},{"t":75,"ph":6.14,"c":34.7,"a":5},{"t":80,"ph":6.2,"c":34.29,"a":-35},{"t":85,"ph":6.34,"c":34.24,"a":-60},{"t":87,"ph":6.42,"c":33.46,"a":-75},{"t":89,"ph":6.45,"c":34.7,"a":-45},{"t":91,"ph":6.46,"c":34.61,"a":60},{"t":93,"ph":6.54,"c":34.74,"a":-50},{"t":95,"ph":6.62,"c":35.02,"a":0},{"t":97,"ph":6.96,"c":35.02,"a":-20},{"t":99,"ph":7.96,"c":34.65,"a":0},{"t":99,"ph":8.42,"c":30.72,"a":0},{"t":99,"ph":8.43,"c":26.23,"a":0},{"t":99,"ph":8.23,"c":23.21,"a":0},{"t":99,"ph":7.44,"c":25.22,"a":0},{"t":97,"ph":6.92,"c":24.17,"a":40},{"t":89,"ph":5.22,"c":29.57,"a":0},{"t":91,"ph":5.4,"c":29.89,"a":-20},{"t":87,"ph":5.45,"c":29.2,"a":-10},{"t":80,"ph":5.75,"c":29.94,"a":40},{"t":75,"ph":5.84,"c":29.71,"a":20},{"t":70,"ph":6.04,"c":29.98,"a":-20},{"t":89,"ph":5.02,"c":24.77,"a":85},{"t":91,"ph":5.31,"c":24.54,"a":10},{"t":85,"ph":4.34,"c":24.13,"a":5},{"t":87,"ph":4.8,"c":24.17,"a":-25},{"t":85,"ph":5.79,"c":24.63,"a":30},{"t":80,"ph":5.96,"c":25.13,"a":-35},{"t":91,"ph":4.8,"c":21.88,"a":-15},{"t":93,"ph":5.86,"c":22.57,"a":5},{"t":95,"ph":6.09,"c":21.88,"a":-10},{"t":97,"ph":5.92,"c":20.65,"a":-10},{"t":85,"ph":4.07,"c":20.92,"a":10},{"t":80,"ph":4.05,"c":20.24,"a":10},{"t":95,"ph":4.58,"c":20.24,"a":5},{"t":97,"ph":4.99,"c":19.96,"a":-5},{"t":99,"ph":6.61,"c":20.01,"a":0},{"t":99,"ph":7.02,"c":19.87,"a":0},{"t":99,"ph":7.17,"c":20.51,"a":0},{"t":99,"ph":8.01,"c":19.91,"a":0},{"t":97,"ph":6.94,"c":17.49,"a":0},{"t":97,"ph":8.14,"c":18.5,"a":0},{"t":87,"ph":4.16,"c":16.9,"a":10},{"t":85,"ph":4.05,"c":16.03,"a":5},{"t":80,"ph":4.04,"c":14.97,"a":8},{"t":97,"ph":5.59,"c":14.79,"a":0},{"t":97,"ph":6.05,"c":14.61,"a":0},{"t":97,"ph":7.01,"c":14.61,"a":0},{"t":95,"ph":5.83,"c":14.06,"a":5},{"t":95,"ph":7.36,"c":14.19,"a":-5},{"t":93,"ph":6.89,"c":13.33,"a":0},{"t":93,"ph":8.42,"c":16.25,"a":0},{"t":91,"ph":6.7,"c":12.41,"a":0},{"t":89,"ph":7.97,"c":14.88,"a":-70},{"t":80,"ph":4.07,"c":11.81,"a":5},{"t":75,"ph":4.02,"c":10.72,"a":10},{"t":70,"ph":4.05,"c":9.98,"a":15},{"t":70,"ph":4.25,"c":5.27,"a":-10},{"t":93,"ph":5.53,"c":9.62,"a":5},{"t":87,"ph":5.85,"c":8.89,"a":-10},{"t":89,"ph":5.94,"c":9.21,"a":-5},{"t":85,"ph":6.15,"c":8.8,"a":-15},{"t":80,"ph":6.46,"c":9.98,"a":-30},{"t":97,"ph":7.39,"c":9.8,"a":10},{"t":89,"ph":7.8,"c":10.13,"a":-25},{"t":87,"ph":7.77,"c":9.21,"a":-5},{"t":85,"ph":8.39,"c":10.03,"a":-15},{"t":80,"ph":5.92,"c":6.97,"a":0},{"t":80,"ph":7.82,"c":6.6,"a":0},{"t":75,"ph":5.84,"c":5.23,"a":-15},{"t":75,"ph":6.66,"c":4.95,"a":10}
],
"legend":[{"lv":70,"to":75},{"lv":75,"to":80},{"lv":80,"to":85},{"lv":85,"to":87},{"lv":87,"to":89},{"lv":89,"to":91},{"lv":91,"to":93},{"lv":93,"to":95},{"lv":95,"to":97},{"lv":97,"to":99},{"lv":99,"to":100}],
"margins":[{"a":3.914,"b":3.952,"d":35.535,"e":4.36},{"a":8.543,"b":8.586,"d":35.535,"e":4.36},{"a":3.914,"b":8.586,"d":35.535,"e":35.29},{"a":3.914,"b":8.586,"d":4.68,"e":4.36}]},
"layer":[
{"layer":[
{"data":{"name":"bands"},"transform":[{"window":[{"op":"row_number","as":"i"}]}],"mark":{"type":"line","stroke":"#f2f2f2","strokeWidth":1,"interpolate":"catmull-rom","clip":true},"encoding":{
"x":{"field":"ph","type":"quantitative","scale":{"domain":[3.914,8.586],"nice":false,"zero":false},"axis":{"title":"pH de Coagulação","values":[4,4.5,5,5.5,6,6.5,7,7.5,8,8.5],"format":".1f","grid":false,"zindex":1,"domainColor":"#111","domainWidth":1.5,"tickColor":"#111","tickSize":5,"labelFont":"Liberation Serif","labelFontSize":17,"labelColor":"#222","labelPadding":3,"titleFont":"Liberation Serif","titleFontSize":17,"titleFontWeight":"normal","titleColor":"#222","titleY":30}},
"y":{"field":"c","type":"quantitative","scale":{"domain":[4.36,35.535],"nice":false,"zero":false},"axis":{"title":"Concentração de Sulfato de Alumínio (mg/L)","values":[5,10,15,20,25,30,35],"format":".1f","grid":false,"zindex":1,"domainColor":"#111","domainWidth":1.5,"tickColor":"#111","tickSize":5,"labelFont":"Liberation Serif","labelFontSize":17,"labelColor":"#222","labelPadding":3,"titleFont":"Liberation Serif","titleFontSize":17.5,"titleFontWeight":"normal","titleColor":"#222","titleX":-42,"titleY":336}},
"fill":{"field":"lv","type":"ordinal","legend":null,"scale":{"domain":[0,70,75,80,85,87,89,91,93,95,97,99],"range":["#ffffff","#c6c6c6","#b2b2b2","#a0a0a0","#8e8e8e","#7c7c7c","#6a6a6a","#585858","#4a4a4a","#383838","#222222","#111111"]}},
"detail":{"field":"p","type":"nominal"},
"order":{"field":"i","type":"quantitative"}}},
{"data":{"name":"margins"},"mark":{"type":"rect","fill":"#ffffff"},"encoding":{
"x":{"field":"a","type":"quantitative","scale":{"domain":[3.914,8.586],"nice":false,"zero":false},"axis":null},"x2":{"field":"b"},
"y":{"field":"d","type":"quantitative","scale":{"domain":[4.36,35.535],"nice":false,"zero":false},"axis":null},"y2":{"field":"e"}}},
{"data":{"name":"labels"},"mark":{"type":"text","font":"Liberation Sans","fontSize":18,"fontWeight":"bold","align":"center","baseline":"middle"},"encoding":{
"x":{"field":"ph","type":"quantitative","scale":{"domain":[3.914,8.586],"nice":false,"zero":false},"axis":null},
"y":{"field":"c","type":"quantitative","scale":{"domain":[4.36,35.535],"nice":false,"zero":false},"axis":null},
"text":{"field":"t","type":"nominal"},
"angle":{"field":"a","type":"quantitative","scale":null},
"color":{"condition":{"test":"datum.t>=97 && datum.c>12","value":"#eeeeee"},"value":"#111111"}}},
{"data":{"values":[{"f":1}]},"mark":{"type":"rect","fillOpacity":0,"stroke":"#222","strokeWidth":1.5},"encoding":{
"x":{"datum":3.619,"type":"quantitative","scale":{"domain":[3.914,8.586],"nice":false,"zero":false},"axis":null},"x2":{"datum":8.586},
"y":{"datum":35.535,"type":"quantitative","scale":{"domain":[4.36,35.535],"nice":false,"zero":false},"axis":null},"y2":{"datum":1.89}}}
],"resolve":{"axis":{"x":"independent","y":"independent"}}},
{"layer":[
{"data":{"values":[{"f":1}]},"mark":{"type":"rect","fill":"#ffffff","stroke":"#222","strokeWidth":1.5},"encoding":{
"x":{"datum":8.657,"type":"quantitative","scale":{"domain":[3.914,8.586],"nice":false,"zero":false},"axis":null},"x2":{"datum":9.4},
"y":{"datum":69.21,"type":"quantitative","scale":{"domain":[69.21,100.64],"range":[130,597],"nice":false,"zero":false},"axis":null},"y2":{"datum":100.64}}},
{"data":{"name":"legend"},"mark":{"type":"rect","stroke":"#e6e6e6","strokeWidth":1},"encoding":{
"x":{"datum":8.675,"type":"quantitative","scale":{"domain":[3.914,8.586],"nice":false,"zero":false},"axis":null},"x2":{"datum":8.818},
"y":{"field":"lv","type":"quantitative","scale":{"domain":[69.21,100.64],"range":[130,597],"nice":false,"zero":false},"axis":null},"y2":{"field":"to"},
"fill":{"field":"lv","type":"ordinal","legend":null,"scale":{"domain":[0,70,75,80,85,87,89,91,93,95,97,99],"range":["#ffffff","#c6c6c6","#b2b2b2","#a0a0a0","#8e8e8e","#7c7c7c","#6a6a6a","#585858","#4a4a4a","#383838","#222222","#111111"]}}}},
{"data":{"name":"legend"},"mark":{"type":"text","font":"Liberation Sans","fontSize":11,"align":"left","baseline":"middle","color":"#111"},"encoding":{
"x":{"datum":8.862,"type":"quantitative","scale":{"domain":[3.914,8.586],"nice":false,"zero":false},"axis":null},
"y":{"field":"lv","type":"quantitative","scale":{"domain":[69.21,100.64],"range":[130,597],"nice":false,"zero":false},"axis":null},
"text":{"field":"lv","type":"nominal"}}}
],"resolve":{"axis":{"x":"independent","y":"independent"}}}
],
"resolve":{"scale":{"y":"independent"},"axis":{"x":"independent","y":"independent"}}}
